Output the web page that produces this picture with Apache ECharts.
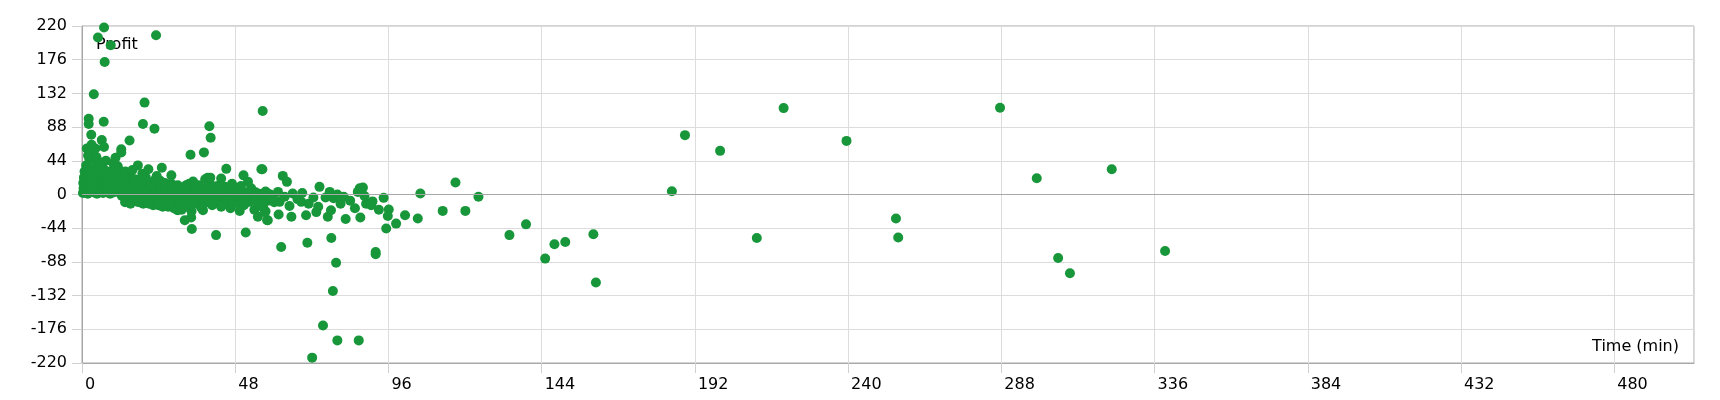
<!DOCTYPE html>
<html>
<head>
<meta charset="utf-8">
<script src="https://cdn.jsdelivr.net/npm/echarts@6/dist/echarts.min.js"></script>
<style>html,body{margin:0;padding:0;background:#fff}#c{width:1720px;height:400px}</style>
</head>
<body>
<div id="c"></div>
<script>
// [time (min), profit]
const highOutliers = [[6.9,218],[5.0,205],[9.0,195],[7.1,173],[23.2,208],[3.7,131],[19.6,120],[56.6,109],[2.1,99],[2.1,92],[6.8,95],[19.1,92],[22.7,86],[39.9,89],[40.3,74],[14.9,70.6],[2.9,78],[6.2,71],[6.9,62],[12.3,59],[12.3,55],[34,52],[38.2,55],[3.0,65],[4.5,49],[1.9,51],[10.8,36]];
const midPoints = [[17.5,38],[25,35],[45.2,33.5],[56.2,33],[50.6,25],[43.6,21],[28,25],[34.8,17],[39.4,22],[52,16.5],[18.9,27],[20.8,33],[23.4,24],[38.6,20],[40.2,22],[1.5,60],[2.4,46],[4.6,42],[5.5,40],[7.5,44],[9.8,41],[11.2,37],[13.6,30],[15.8,32],[10.5,48]];
const denseA = [[0.3,2],[0.5,8],[0.4,15],[0.6,22],[0.8,30],[1.0,4],[1.2,12],[1.1,19],[1.5,26],[1.3,38],[1.8,1],[2.0,9],[2.2,16],[2.1,24],[2.5,33],[2.4,45],[2.9,5],[3.0,13],[3.2,20],[3.1,28],[3.5,52],[3.6,3],[3.8,10],[4.0,18],[4.1,26],[4.3,36],[4.2,60],[4.7,1],[4.9,7],[5.0,14],[5.2,22],[5.1,31],[5.5,42],[5.8,4],[6.0,11],[6.2,19],[6.1,27],[6.4,35],[6.6,2],[6.9,9],[7.0,16],[7.2,24],[7.4,31],[7.8,5],[8.0,12],[8.2,20],[8.5,28],[8.8,1],[9.0,8],[9.2,15],[9.4,23],[9.8,33],[10.0,3],[10.2,11],[10.5,18],[10.8,26],[11.0,6],[11.3,14],[11.6,21],[11.9,2],[12.0,30]];
const denseB = [[12.5,-2],[12.8,6],[13.0,13],[13.2,20],[13.8,-5],[14.0,2],[14.3,9],[14.6,17],[15.0,25],[15.4,-8],[15.6,0],[16.0,7],[16.3,14],[16.8,-4],[17.1,4],[17.4,11],[17.7,19],[18.0,-10],[18.3,-1],[18.7,6],[19.0,13],[19.5,-6],[19.8,2],[20.2,9],[20.5,17],[21.0,-12],[21.3,-3],[21.7,4],[22.0,11],[22.5,-8],[22.8,0],[23.2,7],[23.6,15],[24.0,-14],[24.3,-4],[24.7,3],[25.1,10],[25.5,-10],[25.8,-1],[26.2,6],[26.7,13],[27.0,-16],[27.4,-6],[27.8,2],[28.2,9],[28.6,-12],[29.0,-3],[29.4,5],[29.8,-20],
  [12.2,10],[13.5,-10],[14.8,4],[15.2,-12],[16.5,20],[17.0,-8],[18.5,16],[19.2,-12],[20.0,22],[21.5,12],[22.3,-14],[23.0,20],[24.5,18],[25.3,-16],[26.0,15],[26.5,-5],[27.2,-10],[28.0,14],[28.8,-18],[29.5,10],[24.8,-6],[20.8,-8],[18.9,-4]];
const denseC = [[30.3,-8],[30.7,0],[31.0,7],[31.5,-15],[31.8,-4],[32.2,3],[32.6,12],[33.0,-10],[33.4,-1],[33.9,6],[34.3,-22],[34.6,-6],[35.0,2],[35.5,10],[36.0,-12],[36.4,-3],[36.9,5],[37.3,-17],[37.8,-7],[38.2,0],[38.7,8],[39.2,-10],[39.7,-2],[40.2,4],[40.8,-14],[41.3,-5],[41.8,2],[42.4,11],[43.0,-8],[43.5,0],[44.1,6],[44.7,-12],[45.3,-3],[45.9,3],[46.5,-18],[47.0,-6],[47.6,1],[48.2,8],[48.8,-10],[49.4,-2],[50.0,5],[50.7,-14],[51.3,-4],[52.0,2],[52.6,-9],[53.3,0],[54.0,-20],[54.7,-6],[55.4,1],[56.0,-12],[56.8,-3],[57.5,4],[58.3,-8],[59.0,0],[17.5,-9.6],[23.8,-12],[30,-20.5],[32.2,-33.6],[34.2,-30],[34.4,-45],[42,-53],[51.3,-49.7],[37.9,-20.5],[49.4,-21.4],[55.1,-29],[58,-33.6],[57.5,-22],[43.6,-16],
  [30.5,-14],[31.2,-20],[32.0,9],[33.2,-16],[34.0,-12],[35.2,-8],[36.2,4],[37.0,-1],[38.0,-12],[39.0,3],[40.0,-8],[41.0,6],[42.0,-10],[42.8,-2],[43.8,-14],[44.5,0],[45.5,-8],[46.2,5],[47.3,-12],[48.0,-2],[49.0,3],[50.2,-7],[51.0,1],[51.8,-10],[52.8,5],[53.6,-6],[54.4,3],[55.2,-15],[56.2,-1],[57.0,-8],[58.0,2],[59.5,-5],[60.2,-10],[30.0,12],[33.6,14],[36.6,12],[40.5,12],[44.8,10],[47.0,14],[49.8,11],[53.0,8]];
const sparseMid = [[56.5,33],[62.9,24.3],[64.2,16.5],[74.4,10],[66,1.3],[61.4,3.4],[57.7,1.3],[87,8],[88,9],[86.4,3.4],[94.5,-4.4],[106,1.3],[117,15.7],[77.6,3.4],[76.3,-4],[78.8,-5],[81,-12],[68.7,-9.6],[61.9,-9.6],[59.8,-5],[56.7,-16],[58.2,-33.6],[57.2,-23],[61.6,-26],[65.6,-29],[70.2,-27],[73.4,-23],[77,-29],[78,-20.5],[82.6,-32],[87.2,-30],[89,-12],[90.6,-14],[96.1,-19.6],[95.8,-28],[95.3,-44.5],[98.4,-38],[101.2,-27],[105.2,-31.4],[113,-21.4],[62.4,-68.5],[70.6,-63],[78.1,-56.7],[92,-75],[92,-78],[79.6,-89],[78.6,-126],[75.5,-171],[80,-190.5],[86.7,-190.5],[72.1,-213],[124.2,-3],[120.1,-21.4],[133.9,-53],[139.1,-39],[145.1,-83.7],[148,-65],[151.4,-62],[160.2,-52],[161,-115],[63.5,-3],[65,-15],[67.5,-6],[69,2],[71,-12],[72.5,-4],[74,-16],[80,0],[82,-3],[84,-8],[85.5,-18],[88.5,-2],[91,-9],[93,-20]];
const longTrades = [[184.8,4.3],[188.9,77.5],[199.9,57],[211.4,-56.7],[219.8,112.8],[239.5,70],[255,-31.4],[255.7,-56.2],[287.6,113.2],[299.1,21.3],[305.8,-82.9],[309.5,-102.9],[322.6,33],[339.3,-73.7]];

const allPoints = [].concat(denseA, denseB, denseC, sparseMid, midPoints, highOutliers, longTrades);

const font = 'DejaVu Sans';
const chart = echarts.init(document.getElementById('c'), null, {renderer: 'canvas'});
chart.setOption({
  animation: false,
  grid: {left: 82, top: 26, right: 26, bottom: 37, show: true, borderColor: '#a8a8a8', borderWidth: 1},
  xAxis: {
    type: 'value', min: 0, max: 505, interval: 48,
    name: 'Time (min)', nameLocation: 'end', nameGap: -15,
    nameTextStyle: {fontFamily: font, fontSize: 16, color: '#000', align: 'right', verticalAlign: 'bottom', padding: [0, 0, 8, 0]},
    axisLine: {show: true, onZero: false, lineStyle: {color: '#a8a8a8'}},
    axisTick: {show: true, length: 10, lineStyle: {color: '#d0d0d0'}},
    axisLabel: {fontFamily: font, fontSize: 16, color: '#000', margin: 14, align: 'left', padding: [0, 0, 0, 3], showMaxLabel: false},
    splitLine: {show: true, lineStyle: {color: '#dcdcdc'}}
  },
  yAxis: {
    type: 'value', min: -220, max: 220, interval: 44,
    name: 'Profit', nameLocation: 'end', nameGap: -19,
    nameTextStyle: {fontFamily: font, fontSize: 16, color: '#000', align: 'left', verticalAlign: 'middle', padding: [0, 0, 0, 14]},
    axisLine: {show: true, onZero: false, lineStyle: {color: '#a8a8a8'}},
    axisTick: {show: true, length: 10, lineStyle: {color: '#d0d0d0'}},
    axisLabel: {fontFamily: font, fontSize: 16, color: '#000', margin: 15},
    splitLine: {show: true, lineStyle: {color: '#dcdcdc'}}
  },
  series: [{
    type: 'scatter',
    data: allPoints,
    symbolSize: 10,
    itemStyle: {color: '#17963a', opacity: 1},
    markLine: {
      silent: true, symbol: 'none', label: {show: false},
      lineStyle: {color: '#a8a8a8', type: 'solid', width: 1},
      data: [{yAxis: 0}]
    }
  }]
});
</script>
</body>
</html>
